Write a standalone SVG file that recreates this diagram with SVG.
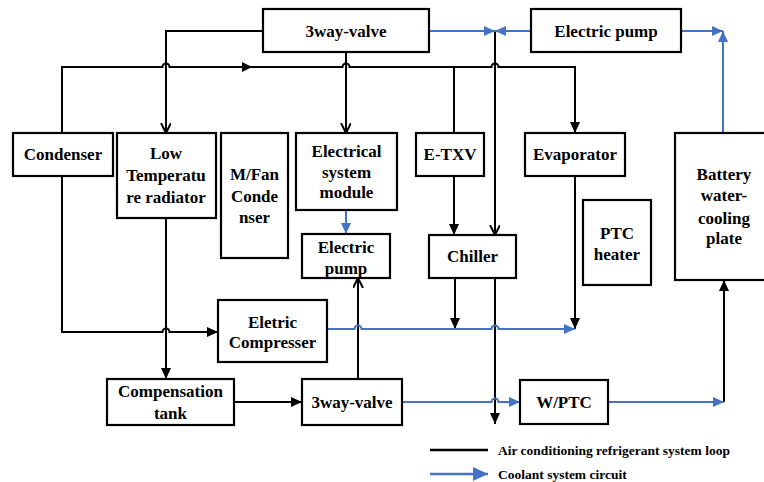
<svg xmlns="http://www.w3.org/2000/svg" width="764" height="482" viewBox="0 0 764 482">
<style>
.box{fill:#fff;stroke:#000;stroke-width:2.2}
.t{font-family:"Liberation Serif","Times New Roman",serif;font-weight:bold;font-size:17px;text-anchor:middle;fill:#000}
.lg{font-family:"Liberation Serif","Times New Roman",serif;font-weight:bold;font-size:13.5px;fill:#000}
.k{fill:none;stroke:#000;stroke-width:2}
.b{fill:none;stroke:#4472C4;stroke-width:2}
</style>
<defs>
<marker id="af" markerUnits="userSpaceOnUse" markerWidth="12" markerHeight="10" refX="11" refY="5" orient="auto"><path d="M0,0 L11,5 L0,10 z" fill="#000"/></marker>
<marker id="ao" markerUnits="userSpaceOnUse" markerWidth="12" markerHeight="12" refX="10" refY="5" orient="auto"><path d="M0,0 L10,5 L0,10" fill="none" stroke="#000" stroke-width="2"/></marker>
<marker id="ab" markerUnits="userSpaceOnUse" markerWidth="12" markerHeight="10" refX="11" refY="5" orient="auto"><path d="M0,0 L11,5 L0,10 z" fill="#4472C4"/></marker>
<marker id="abl" markerUnits="userSpaceOnUse" markerWidth="16" markerHeight="14" refX="15" refY="7" orient="auto"><path d="M0,0 L15,7 L0,14 z" fill="#4472C4"/></marker>
</defs>

<g id="connectors">
<!-- black refrigerant lines -->
<path class="k" d="M263,31 H166 V133" marker-end="url(#ao)"/>
<path class="k" d="M62,133 V67 H162.5 A3.5,3.5 0 0 1 169.5,67 H342.5 A3.5,3.5 0 0 1 349.5,67 H491.5 A3.5,3.5 0 0 1 498.5,67 H575 V133" marker-end="url(#af)"/>
<polygon points="242,62 252,67 242,72" fill="#000"/>
<path class="k" d="M454,67 V133"/>
<path class="k" d="M346,52 V133" marker-end="url(#ao)"/>
<path class="k" d="M495,31 V235" marker-end="url(#ao)"/>
<path class="k" d="M454,176 V235" marker-end="url(#af)"/>
<path class="k" d="M62,176 V332 H162.5 A3.5,3.5 0 0 1 169.5,332 H218" marker-end="url(#af)"/>
<path class="k" d="M166,218 V379" marker-end="url(#af)"/>
<path class="k" d="M234,402 H302" marker-end="url(#af)"/>
<path class="k" d="M358,379 V278" marker-end="url(#ao)"/>
<path class="k" d="M455,278 V329" marker-end="url(#af)"/>
<path class="k" d="M495,278 V424" marker-end="url(#af)"/>
<path class="k" d="M575,176 V329" marker-end="url(#af)"/>
<path class="k" d="M724,402 V280" marker-end="url(#af)"/>
<!-- blue coolant lines -->
<path class="b" d="M429,31 H495" marker-end="url(#ab)"/>
<path class="b" d="M531,31 H495" marker-end="url(#ab)"/>
<path class="b" d="M681,31 H723" marker-end="url(#ab)"/>
<path class="b" d="M723,133 V31" marker-end="url(#ab)"/>
<path class="b" d="M346,210 V234" marker-end="url(#ab)"/>
<path class="b" d="M327,329 H354.5 A3.5,3.5 0 0 1 361.5,329 H491.5 A3.5,3.5 0 0 1 498.5,329 H575" marker-end="url(#ab)"/>
<path class="b" d="M402,402 H491.5 A3.5,3.5 0 0 1 498.5,402 H520" marker-end="url(#ab)"/>
<path class="b" d="M608,402 H724" marker-end="url(#ab)"/>
</g>

<g id="valve-top"><rect class="box" x="263" y="9" width="166" height="43"/><text class="t" x="346" y="37">3way-valve</text></g>
<g id="pump-top"><rect class="box" x="531" y="9" width="150" height="43"/><text class="t" x="606" y="37">Electric pump</text></g>
<g id="condenser"><rect class="box" x="13" y="133" width="100" height="43"/><text class="t" x="63" y="160">Condenser</text></g>
<g id="ltr"><rect class="box" x="117" y="133" width="99" height="85"/><text class="t" x="166" y="159">Low</text><text class="t" x="166" y="181">Temperatu</text><text class="t" x="166" y="203">re radiator</text></g>
<g id="mfan"><rect class="box" x="221" y="133" width="67" height="125"/><text class="t" x="254.5" y="180">M/Fan</text><text class="t" x="254.5" y="202">Conde</text><text class="t" x="254.5" y="223">nser</text></g>
<g id="esm"><rect class="box" x="296" y="133" width="101" height="77"/><text class="t" x="346.5" y="157">Electrical</text><text class="t" x="346.5" y="178">system</text><text class="t" x="346.5" y="198">module</text></g>
<g id="pump-mid"><rect class="box" x="302" y="234" width="88" height="44"/><text class="t" x="346" y="253">Electric</text><text class="t" x="346" y="274">pump</text></g>
<g id="etxv"><rect class="box" x="416" y="133" width="68" height="43"/><text class="t" x="450" y="160">E-TXV</text></g>
<g id="evaporator"><rect class="box" x="525" y="133" width="100" height="43"/><text class="t" x="575" y="160">Evaporator</text></g>
<g id="chiller"><rect class="box" x="429" y="235" width="87" height="43"/><text class="t" x="472.5" y="262">Chiller</text></g>
<g id="ptc"><rect class="box" x="583" y="200" width="68" height="85"/><text class="t" x="617" y="239">PTC</text><text class="t" x="617" y="260">heater</text></g>
<g id="battery"><rect class="box" x="675" y="133" width="100" height="147"/><text class="t" x="724" y="180">Battery</text><text class="t" x="724" y="201">water-</text><text class="t" x="724" y="224">cooling</text><text class="t" x="724" y="244">plate</text></g>
<g id="compressor"><rect class="box" x="218" y="300" width="109" height="62"/><text class="t" x="272.5" y="328">Eletric</text><text class="t" x="272.5" y="348">Compresser</text></g>
<g id="comp-tank"><rect class="box" x="107" y="379" width="127" height="46"/><text class="t" x="170.5" y="397">Compensation</text><text class="t" x="170.5" y="419">tank</text></g>
<g id="valve-bottom"><rect class="box" x="302" y="379" width="100" height="46"/><text class="t" x="352" y="408">3way-valve</text></g>
<g id="wptc"><rect class="box" x="520" y="380" width="88" height="44"/><text class="t" x="564" y="408">W/PTC</text></g>

<g id="legend">
<line x1="430" y1="450" x2="488" y2="450" stroke="#000" stroke-width="2.5"/>
<text class="lg" x="498" y="455">Air conditioning refrigerant system loop</text>
<line x1="430" y1="474" x2="488" y2="474" stroke="#4472C4" stroke-width="2.5" marker-end="url(#abl)"/>
<text class="lg" x="498" y="479">Coolant system circuit</text>
</g>
</svg>
